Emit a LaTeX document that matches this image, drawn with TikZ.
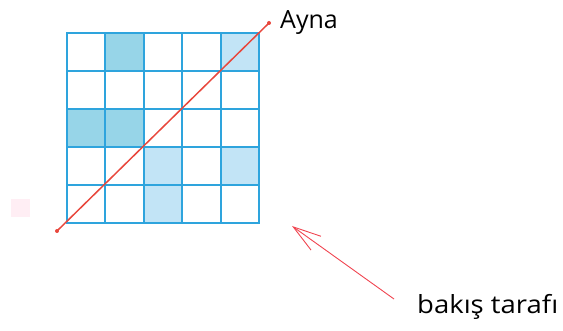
\documentclass[tikz,border=0pt]{standalone}
\usepackage{fontspec}
\setmainfont{Open Sans}
\usetikzlibrary{arrows.meta}
\definecolor{gridblue}{HTML}{2EA4DD}
\definecolor{cellDark}{HTML}{97D5E8}
\definecolor{cellLight}{HTML}{C2E4F6}
\definecolor{mirrorRed}{HTML}{E8473C}
\definecolor{sightRed}{HTML}{F04450}
\definecolor{faintPink}{HTML}{FFEEF4}

\begin{document}
\begin{tikzpicture}[x=1pt, y=-1pt,
  gridline/.style={draw=gridblue, line width=2pt},
  mirror/.style={draw=mirrorRed, line width=1.5pt},
  sight/.style={draw=sightRed, line width=0.9pt, -{Straight Barb[length=28pt, width=17pt, line width=0.9pt]}},
  lbl/.style={font=\fontsize{25}{30}\selectfont, inner sep=0pt, text=black},
]
\useasboundingbox (0,0) rectangle (563,331);
\fill[faintPink] (11,199) rectangle (30,217);

% shaded cells
\foreach \c/\r in {2/1,1/3,2/3}
  \fill[cellDark] ({67+(\c-1)*38.4},{33+(\r-1)*38}) rectangle ++(38.4,38);
\foreach \c/\r in {5/1,3/4,5/4,3/5}
  \fill[cellLight] ({67+(\c-1)*38.4},{33+(\r-1)*38}) rectangle ++(38.4,38);

% grid
\foreach \i in {0,...,5} {
  \draw[gridline] ({67+\i*38.4},33) -- ({67+\i*38.4},223);
  \draw[gridline] (67,{33+\i*38}) -- (259,{33+\i*38});
}
\draw[gridline, line cap=rect] (67,33) rectangle (259,223);

% mirror line
\coordinate (m1) at (57,231);
\coordinate (m2) at (269,23);
\draw[mirror] (m1) -- (m2);
\fill[mirrorRed] (m1) circle (2) (m2) circle (2);
\node[lbl, anchor=base west] (ayna) at (280,29) {Ayna};

% viewing side
\coordinate (tail) at (394,299);
\coordinate (tip) at (292,226);
\draw[sight] (tail) -- (tip);
\node[lbl, anchor=base west] (bakis) at (417,314) {\scalebox{1.1}[1]{bakış tarafı}};
\end{tikzpicture}
\end{document}
